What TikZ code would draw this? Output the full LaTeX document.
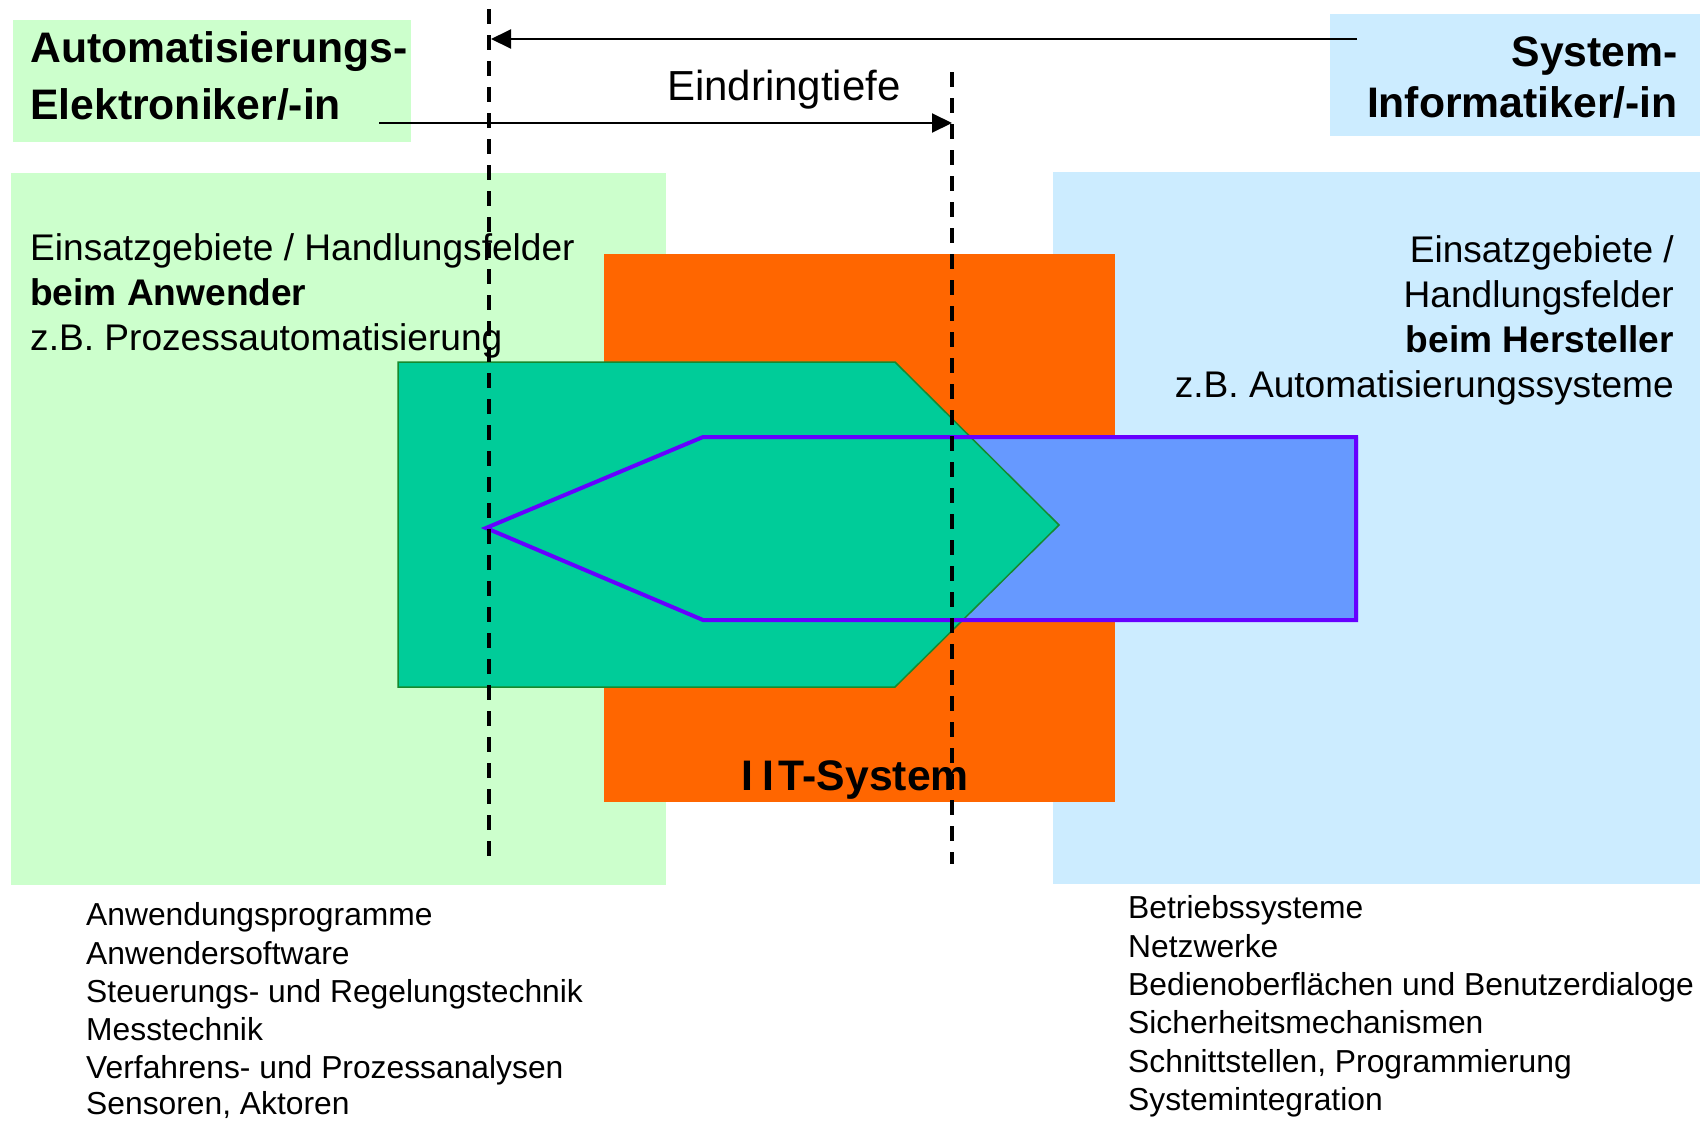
\documentclass[tikz,border=0pt]{standalone}
\usepackage{fontspec}
\setmainfont{Liberation Sans}
\usetikzlibrary{arrows.meta}
\definecolor{lgreen}{HTML}{CCFFCC}
\definecolor{lblue}{HTML}{CCECFF}
\definecolor{orng}{HTML}{FF6600}
\definecolor{hexgreen}{HTML}{00CC99}
\definecolor{hexline}{HTML}{168A2E}
\definecolor{arrblue}{HTML}{6699FF}
\definecolor{violet}{HTML}{6600FF}
\tikzset{
  txt/.style={inner sep=0pt, font=\fontsize{37.1}{45}\selectfont},
  ttl/.style={inner sep=0pt, font=\fontsize{42.7}{50}\selectfont\bfseries},
  lst/.style={inner sep=0pt, font=\fontsize{31.8}{38}\selectfont},
  dline/.style={line width=3.3pt, dash pattern=on 15pt off 11pt},
  arr/.style={line width=2pt, -{Triangle[length=20pt,width=19pt]}},
}
\begin{document}
\begin{tikzpicture}[x=1pt,y=-1pt]
\useasboundingbox (0,0) rectangle (1700,1120);
% background boxes
\fill[lgreen] (13,20) rectangle (411,142);
\fill[lblue] (1330,14) rectangle (1700,136);
\fill[lgreen] (11,173) rectangle (666,885);
\fill[lblue] (1053,172) rectangle (1700,884);
\fill[orng] (604,254) rectangle (1115,802);
% blue arrow fill
\fill[arrblue] (486,528) -- (703,437) -- (1358,437) -- (1358,620) -- (703,620) -- cycle;
% green hexagon
\filldraw[fill=hexgreen, draw=hexline, line width=1.5pt] (398,362) -- (895,362) -- (1059,525) -- (895,687) -- (398,687) -- cycle;
% blue arrow outline
\draw[violet, line width=4pt] (486,528) -- (703,437) -- (1356,437) -- (1356,620) -- (703,620) -- cycle;
% texts
\node[ttl, anchor=base west] (t1) at (30,62) {Automatisierungs-};
\node[ttl, anchor=base west] (t2) at (30,119) {Elektroniker/-in};
\node[ttl, anchor=base east] (t3) at (1678,66) {System-};
\node[ttl, anchor=base east] (t4) at (1678,117) {Informatiker/-in};
\node[inner sep=0pt, font=\fontsize{42}{50}\selectfont, anchor=base west] (ein) at (667,100) {Eindringtiefe};
\node[txt, anchor=base west] (l1) at (30,260) {Einsatzgebiete / Handlungsfelder};
\node[txt, anchor=base west] (l2) at (30,305) {\bfseries beim Anwender};
\node[txt, anchor=base west] (l3) at (30,350) {z.B. Prozessautomatisierung};
\node[txt, anchor=base east] (r1) at (1674,262) {Einsatzgebiete /};
\node[txt, anchor=base east] (r2) at (1674,307) {Handlungsfelder};
\node[txt, anchor=base east] (r3) at (1674,352) {\bfseries beim Hersteller};
\node[txt, anchor=base east] (r4) at (1674,397) {z.B. Automatisierungssysteme};
\node[ttl, anchor=base west] (iit) at (741,790) {I\kern9pt I\kern5pt T-System};
\node[lst, anchor=base west] (a1) at (86,925) {Anwendungsprogramme};
\node[lst, anchor=base west] (a2) at (86,964) {Anwendersoftware};
\node[lst, anchor=base west] (a3) at (86,1002) {Steuerungs- und Regelungstechnik};
\node[lst, anchor=base west] (a4) at (86,1040) {Messtechnik};
\node[lst, anchor=base west] (a5) at (86,1078) {Verfahrens- und Prozessanalysen};
\node[lst, anchor=base west] (a6) at (86,1114) {Sensoren, Aktoren};
\node[lst, anchor=base west] (b1) at (1128,918) {Betriebssysteme};
\node[lst, anchor=base west] (b2) at (1128,957) {Netzwerke};
\node[lst, anchor=base west] (b3) at (1128,995) {Bedienoberflächen und Benutzerdialoge};
\node[lst, anchor=base west] (b4) at (1128,1033) {Sicherheitsmechanismen};
\node[lst, anchor=base west] (b5) at (1128,1072) {Schnittstellen, Programmierung};
\node[lst, anchor=base west] (b6) at (1128,1110) {Systemintegration};
% coordinates
\coordinate (d1top) at (489,9);
\coordinate (d1bot) at (489,857);
\coordinate (d2top) at (952,72);
\coordinate (d2bot) at (952,864);
\coordinate (topstart) at (1357,39);
\coordinate (topend) at (491,39);
\coordinate (botstart) at (379,123);
\coordinate (botend) at (952,123);
% arrows
\draw[arr] (topstart) -- (topend);
\draw[arr] (botstart) -- (botend);
% dashed lines
\draw[dline] (d1top) -- (d1bot);
\draw[dline] (d2top) -- (d2bot);
\end{tikzpicture}
\end{document}
